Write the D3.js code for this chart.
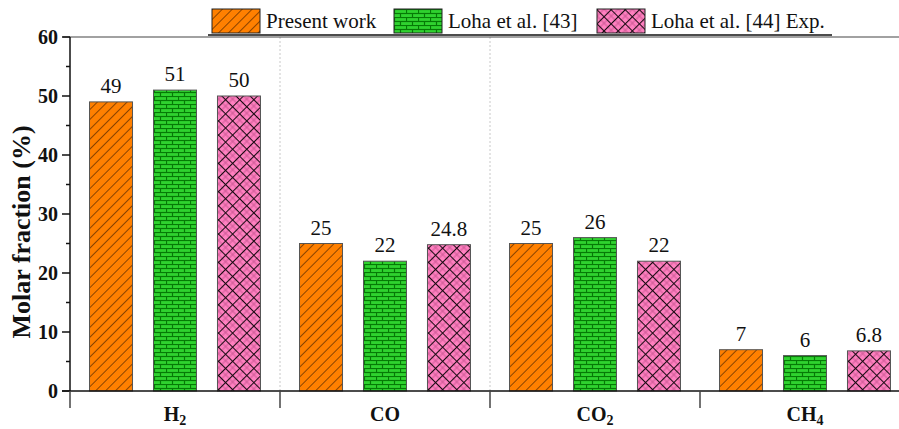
<!DOCTYPE html>
<html>
<head>
<meta charset="utf-8">
<script src="https://cdn.jsdelivr.net/npm/d3@7"></script>
<style>
  html, body { margin: 0; padding: 0; background: #fff; }
  svg { display: block; }
</style>
</head>
<body>
<svg id="chart" width="899" height="429"></svg>
<script>
// Gas species along the x axis (main text + subscript)
const categories = ["H2", "CO", "CO2", "CH4"];
const categoryLabels = [["H", "2"], ["CO", ""], ["CO", "2"], ["CH", "4"]];

// Series names as shown in the legend
const seriesNames = ["Present work", "Loha et al. [43]", "Loha et al. [44] Exp."];

// Molar fraction (%) per series, in category order
const presentWork = [49, 25, 25, 7];
const loha43 = [51, 22, 26, 6];
const loha44Exp = [50, 24.8, 22, 6.8];

const seriesValues = [presentWork, loha43, loha44Exp];
const yTicks = [0, 10, 20, 30, 40, 50, 60];

const svg = d3.select("#chart");
const W = 899, H = 429;
const plotLeft = 70, plotRight = 910, plotTop = 37, plotBottom = 391;
const serif = "'Liberation Serif', 'Times New Roman', serif";

const x = d3.scaleBand().domain(categories).range([plotLeft, plotRight]).padding(0);
const xs = d3.scaleBand().domain(d3.range(3)).range([0, x.bandwidth()])
  .paddingInner(0.328).paddingOuter(0.305);
const y = d3.scaleLinear().domain([0, 60]).range([plotBottom, plotTop]);

// ---- fill patterns ----
const defs = svg.append("defs");

// orange with diagonal hatching
const pOr = defs.append("pattern").attr("id", "pat-orange")
  .attr("patternUnits", "userSpaceOnUse").attr("width", 7).attr("height", 7)
  .attr("patternTransform", "rotate(45)");
pOr.append("rect").attr("width", 7).attr("height", 7).attr("fill", "#ff8000");
pOr.append("line").attr("x1", 0).attr("y1", 0).attr("x2", 0).attr("y2", 7)
  .attr("stroke", "#4a2200").attr("stroke-width", 1.3);

// green bricks
const pGr = defs.append("pattern").attr("id", "pat-green")
  .attr("patternUnits", "userSpaceOnUse").attr("width", 12).attr("height", 8);
pGr.append("rect").attr("width", 12).attr("height", 8).attr("fill", "#2fd22f");
pGr.append("line").attr("x1", 0).attr("x2", 12).attr("y1", 0.5).attr("y2", 0.5)
  .attr("stroke", "#067a06").attr("stroke-width", 1.2);
pGr.append("line").attr("x1", 0).attr("x2", 12).attr("y1", 4.5).attr("y2", 4.5)
  .attr("stroke", "#067a06").attr("stroke-width", 1.2);
pGr.append("line").attr("x1", 0.5).attr("x2", 0.5).attr("y1", 0).attr("y2", 4.5)
  .attr("stroke", "#067a06").attr("stroke-width", 1.2);
pGr.append("line").attr("x1", 6.5).attr("x2", 6.5).attr("y1", 4.5).attr("y2", 8)
  .attr("stroke", "#067a06").attr("stroke-width", 1.2);

// pink with cross hatching
const pPk = defs.append("pattern").attr("id", "pat-pink")
  .attr("patternUnits", "userSpaceOnUse").attr("width", 10).attr("height", 10)
  .attr("patternTransform", "rotate(45)");
pPk.append("rect").attr("width", 10).attr("height", 10).attr("fill", "#ff80c0");
pPk.append("line").attr("x1", 5).attr("x2", 5).attr("y1", 0).attr("y2", 10)
  .attr("stroke", "#c0508a").attr("stroke-width", 0.8);
pPk.append("line").attr("x1", 0).attr("x2", 10).attr("y1", 5).attr("y2", 5)
  .attr("stroke", "#c0508a").attr("stroke-width", 0.8);
pPk.append("line").attr("x1", 0.5).attr("x2", 0.5).attr("y1", 0).attr("y2", 10)
  .attr("stroke", "#1a0a12").attr("stroke-width", 1.1);
pPk.append("line").attr("x1", 0).attr("x2", 10).attr("y1", 0.5).attr("y2", 0.5)
  .attr("stroke", "#1a0a12").attr("stroke-width", 1.1);

const fills = ["url(#pat-orange)", "url(#pat-green)", "url(#pat-pink)"];

// ---- dotted separators between categories ----
svg.append("g").selectAll("line")
  .data(categories.slice(1, 3))
  .join("line")
  .attr("x1", d => x(d)).attr("x2", d => x(d))
  .attr("y1", plotTop).attr("y2", plotBottom)
  .attr("stroke", "#c8c8c8").attr("stroke-width", 1)
  .attr("stroke-dasharray", "2,2");

// ---- bars ----
const cats = svg.append("g").selectAll("g")
  .data(categories)
  .join("g")
  .attr("transform", d => `translate(${x(d)},0)`);

cats.selectAll("rect")
  .data((d, ci) => seriesValues.map((vals, si) => ({ si, v: vals[ci] })))
  .join("rect")
  .attr("x", d => xs(d.si))
  .attr("width", xs.bandwidth())
  .attr("y", d => y(d.v))
  .attr("height", d => y(0) - y(d.v))
  .attr("fill", d => fills[d.si])
  .attr("stroke", "#555")
  .attr("stroke-width", 1);

cats.selectAll("text.val")
  .data((d, ci) => seriesValues.map((vals, si) => ({ si, v: vals[ci] })))
  .join("text")
  .attr("class", "val")
  .attr("x", d => xs(d.si) + xs.bandwidth() / 2)
  .attr("y", d => y(d.v) - 9)
  .attr("text-anchor", "middle")
  .attr("font-family", serif)
  .attr("font-size", 21)
  .attr("fill", "#111")
  .text(d => d.v);

// ---- frame: top line ----
svg.append("line")
  .attr("x1", 63).attr("x2", W).attr("y1", plotTop).attr("y2", plotTop)
  .attr("stroke", "#444").attr("stroke-width", 1.2);

// ---- y axis ----
const yAxis = svg.append("g").attr("transform", `translate(${plotLeft},0)`);
yAxis.append("line").attr("x1", 0).attr("x2", 0).attr("y1", plotTop).attr("y2", plotBottom)
  .attr("stroke", "#111").attr("stroke-width", 1.5);
yAxis.selectAll("line.major").data(yTicks).join("line").attr("class", "major")
  .attr("x1", -8).attr("x2", 0).attr("y1", d => y(d)).attr("y2", d => y(d))
  .attr("stroke", "#111").attr("stroke-width", 1.5);
yAxis.selectAll("line.minor").data(yTicks.slice(0, -1).map(d => d + 5)).join("line").attr("class", "minor")
  .attr("x1", -4).attr("x2", 0).attr("y1", d => y(d)).attr("y2", d => y(d))
  .attr("stroke", "#111").attr("stroke-width", 1.5);
yAxis.selectAll("text").data(yTicks).join("text")
  .attr("x", -12).attr("y", d => y(d)).attr("dy", "0.35em")
  .attr("text-anchor", "end")
  .attr("font-family", serif)
  .attr("font-weight", "bold").attr("font-size", 20).attr("fill", "#111")
  .text(d => d);

svg.append("text")
  .attr("transform", `translate(30,232) rotate(-90)`)
  .attr("text-anchor", "middle")
  .attr("font-family", serif)
  .attr("font-weight", "bold").attr("font-size", 26).attr("fill", "#111")
  .text("Molar fraction (%)");

// ---- x axis ----
const xAxis = svg.append("g");
xAxis.append("line").attr("x1", 62).attr("x2", W).attr("y1", plotBottom).attr("y2", plotBottom)
  .attr("stroke", "#111").attr("stroke-width", 1.5);
xAxis.selectAll("line.tick").data(categories).join("line").attr("class", "tick")
  .attr("x1", d => x(d)).attr("x2", d => x(d)).attr("y1", plotBottom).attr("y2", plotBottom + 17)
  .attr("stroke", "#444").attr("stroke-width", 1.5);

const catText = xAxis.selectAll("text").data(categories).join("text")
  .attr("x", d => x(d) + x.bandwidth() / 2).attr("y", 421)
  .attr("text-anchor", "middle")
  .attr("font-family", serif)
  .attr("font-weight", "bold").attr("font-size", 20).attr("fill", "#111");
catText.each(function (d, i) {
  const t = d3.select(this);
  const [main, sub] = categoryLabels[i];
  t.append("tspan").text(main);
  if (sub) t.append("tspan").attr("dy", 4).attr("font-size", 14).text(sub);
});

// ---- legend ----
const legendX = [212, 394, 597];
const legend = svg.append("g");
legend.append("line").attr("x1", 208).attr("x2", 832).attr("y1", 35).attr("y2", 35)
  .attr("stroke", "#111").attr("stroke-width", 1.5);
const items = legend.selectAll("g").data(seriesNames).join("g")
  .attr("transform", (d, i) => `translate(${legendX[i]},9)`);
items.append("rect").attr("width", 48).attr("height", 24)
  .attr("fill", (d, i) => fills[i]).attr("stroke", "#222").attr("stroke-width", 1);
items.append("text").attr("x", 54).attr("y", 19)
  .attr("font-family", serif)
  .attr("font-size", 21).attr("fill", "#111")
  .text(d => d);
</script>
</body>
</html>
